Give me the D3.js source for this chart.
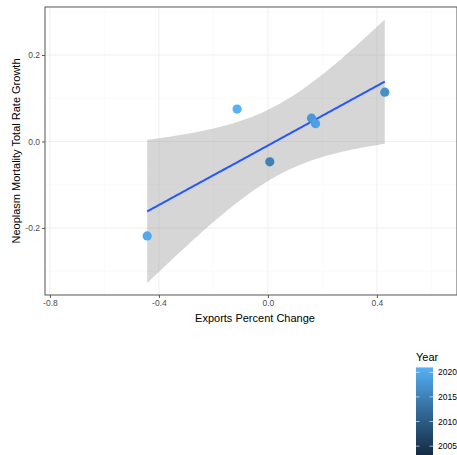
<!DOCTYPE html>
<html lang="en">
<head>
    <meta charset="UTF-8">
    <title>Exports vs Neoplasm Mortality</title>
    <script src="https://cdn.jsdelivr.net/npm/d3@7/dist/d3.min.js"></script>
    <style>
        body { margin: 0; background: #fff; }
        text { font-family: "Liberation Sans", Arial, sans-serif; }
    </style>
</head>
<body>
<script>
    // data
    const exportsChange = [-0.443, -0.113, 0.007, 0.160, 0.175, 0.429];
    const mortalityGrowth = [-0.2185, 0.075, -0.047, 0.054, 0.041, 0.114];
    const years = [2020, 2021, 2015, 2018, 2019, 2017];

    const xTicks = [-0.8, -0.4, 0.0, 0.4];
    const xMinor = [-0.6, -0.2, 0.2, 0.6];
    const yTicks = [-0.2, 0.0, 0.2];
    const yMinor = [-0.3, -0.1, 0.1, 0.3];
    const yearLimits = [2003, 2021];
    const yearTicks = [2005, 2010, 2015, 2020];

    const width = 457;
    const height = 455;

    // panel box
    const panel = { left: 45, top: 7, right: 457, bottom: 295 };

    const svg = d3.select('body')
        .append('svg')
        .attr('width', width)
        .attr('height', height);

    const x = d3.scaleLinear()
        .domain([-0.818, 0.694])
        .range([panel.left, panel.right]);

    const y = d3.scaleLinear()
        .domain([-0.355, 0.311])
        .range([panel.bottom, panel.top]);

    const colour = d3.scaleLinear()
        .domain(yearLimits)
        .range(['#132B43', '#56B1F7'])
        .interpolate(d3.interpolateLab);

    // grid lines
    const grid = svg.append('g');
    grid.selectAll('.xminor').data(xMinor).enter().append('line')
        .attr('x1', d => x(d)).attr('x2', d => x(d))
        .attr('y1', panel.top).attr('y2', panel.bottom)
        .attr('stroke', '#f6f6f6').attr('stroke-width', 0.6);
    grid.selectAll('.yminor').data(yMinor).enter().append('line')
        .attr('y1', d => y(d)).attr('y2', d => y(d))
        .attr('x1', panel.left).attr('x2', panel.right)
        .attr('stroke', '#f6f6f6').attr('stroke-width', 0.6);
    grid.selectAll('.xmajor').data(xTicks).enter().append('line')
        .attr('x1', d => x(d)).attr('x2', d => x(d))
        .attr('y1', panel.top).attr('y2', panel.bottom)
        .attr('stroke', '#efefef').attr('stroke-width', 1);
    grid.selectAll('.ymajor').data(yTicks).enter().append('line')
        .attr('y1', d => y(d)).attr('y2', d => y(d))
        .attr('x1', panel.left).attr('x2', panel.right)
        .attr('stroke', '#efefef').attr('stroke-width', 1);

    // linear fit with 95% band (like geom_smooth(method = "lm"))
    const n = exportsChange.length;
    const mx = d3.mean(exportsChange);
    const my = d3.mean(mortalityGrowth);
    let sxx = 0, sxy = 0;
    exportsChange.forEach((v, i) => {
        sxx += (v - mx) * (v - mx);
        sxy += (v - mx) * (mortalityGrowth[i] - my);
    });
    const slope = sxy / sxx;
    const icept = my - slope * mx;
    let sse = 0;
    exportsChange.forEach((v, i) => {
        const r = mortalityGrowth[i] - (icept + slope * v);
        sse += r * r;
    });
    const s = Math.sqrt(sse / (n - 2));
    const tCrit = 2.776; // t(0.975, df = 4)

    const [x0, x1] = d3.extent(exportsChange);
    const fit = d3.range(81).map(k => {
        const xv = x0 + (x1 - x0) * k / 80;
        const yv = icept + slope * xv;
        const se = s * Math.sqrt(1 / n + (xv - mx) * (xv - mx) / sxx);
        return { x: xv, y: yv, lo: yv - tCrit * se, hi: yv + tCrit * se };
    });

    svg.append('path')
        .datum(fit)
        .attr('d', d3.area().x(d => x(d.x)).y0(d => y(d.lo)).y1(d => y(d.hi)))
        .attr('fill', '#999999')
        .attr('fill-opacity', 0.4);

    svg.append('path')
        .datum(fit)
        .attr('d', d3.line().x(d => x(d.x)).y(d => y(d.y)))
        .attr('fill', 'none')
        .attr('stroke', '#2457FF')
        .attr('stroke-width', 2);

    // points
    svg.selectAll('.pt')
        .data(exportsChange)
        .enter()
        .append('circle')
        .attr('class', 'pt')
        .attr('cx', d => x(d))
        .attr('cy', (d, i) => y(mortalityGrowth[i]))
        .attr('r', 4.6)
        .attr('fill', (d, i) => colour(years[i]));

    // panel border
    svg.append('rect')
        .attr('x', panel.left).attr('y', panel.top)
        .attr('width', panel.right - panel.left)
        .attr('height', panel.bottom - panel.top)
        .attr('fill', 'none')
        .attr('stroke', '#555')
        .attr('stroke-width', 1);

    // axes
    const xAxis = d3.axisBottom(x).tickValues(xTicks).tickFormat(d3.format('.1f')).tickSize(3).tickPadding(2);
    const yAxis = d3.axisLeft(y).tickValues(yTicks).tickFormat(d3.format('.1f')).tickSize(3).tickPadding(2);

    const gx = svg.append('g')
        .attr('transform', `translate(0, ${panel.bottom})`)
        .call(xAxis);
    const gy = svg.append('g')
        .attr('transform', `translate(${panel.left}, 0)`)
        .call(yAxis);
    [gx, gy].forEach(g => {
        g.select('.domain').remove();
        g.selectAll('line').attr('stroke', '#555');
        g.selectAll('text')
            .attr('fill', '#4d4d4d')
            .style('font-size', '8.5px')
            .text(d => d3.format('.1f')(d).replace('−', '-'));
    });

    // axis titles
    svg.append('text')
        .attr('x', (panel.left + 457) / 2 + 4)
        .attr('y', 322)
        .attr('text-anchor', 'middle')
        .style('font-size', '11px')
        .attr('fill', '#000')
        .text('Exports Percent Change');

    svg.append('text')
        .attr('transform', `translate(20, ${(panel.top + panel.bottom) / 2}) rotate(-90)`)
        .attr('text-anchor', 'middle')
        .style('font-size', '11px')
        .attr('fill', '#000')
        .text('Neoplasm Mortality Total Rate Growth');

    // colour bar legend
    const bar = { left: 416, width: 17 };
    const barY = d3.scaleLinear().domain(yearLimits).range([456, 367.4]);

    svg.append('text')
        .attr('x', 416)
        .attr('y', 361)
        .style('font-size', '11px')
        .attr('fill', '#000')
        .text('Year');

    const defs = svg.append('defs');
    const grad = defs.append('linearGradient')
        .attr('id', 'yeargrad')
        .attr('x1', 0).attr('y1', 1).attr('x2', 0).attr('y2', 0);
    d3.range(11).forEach(k => {
        const yr = yearLimits[0] + (yearLimits[1] - yearLimits[0]) * k / 10;
        grad.append('stop')
            .attr('offset', `${k * 10}%`)
            .attr('stop-color', colour(yr));
    });

    svg.append('rect')
        .attr('x', bar.left)
        .attr('y', barY(yearLimits[1]))
        .attr('width', bar.width)
        .attr('height', barY(yearLimits[0]) - barY(yearLimits[1]))
        .attr('fill', 'url(#yeargrad)');

    const ticks = svg.append('g');
    yearTicks.forEach(t => {
        ticks.append('line')
            .attr('x1', bar.left).attr('x2', bar.left + 3.5)
            .attr('y1', barY(t)).attr('y2', barY(t))
            .attr('stroke', '#fff').attr('stroke-width', 0.6);
        ticks.append('line')
            .attr('x1', bar.left + bar.width - 3.5).attr('x2', bar.left + bar.width)
            .attr('y1', barY(t)).attr('y2', barY(t))
            .attr('stroke', '#fff').attr('stroke-width', 0.6);
        ticks.append('text')
            .attr('x', 438)
            .attr('y', barY(t) + 3)
            .style('font-size', '8.5px')
            .attr('fill', '#000')
            .text(t);
    });
</script>
</body>
</html>
